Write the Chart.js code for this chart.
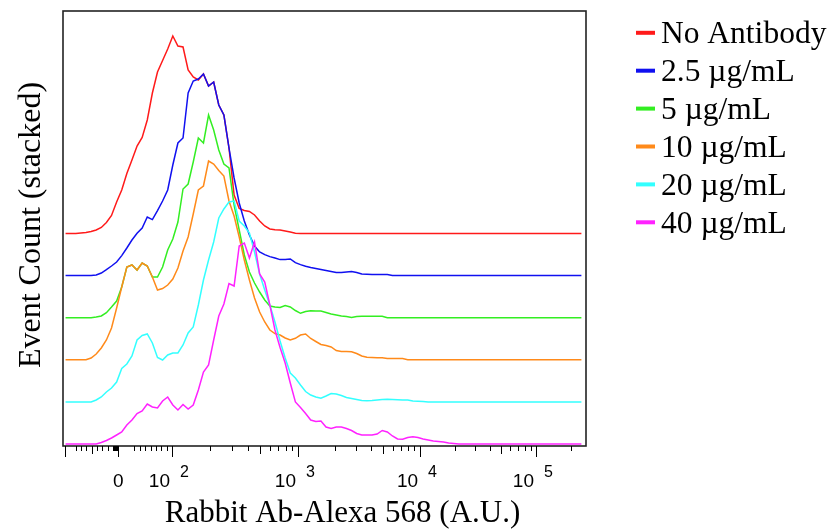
<!DOCTYPE html>
<html>
<head>
<meta charset="utf-8">
<script src="https://cdn.jsdelivr.net/npm/chart.js@4.4.1/dist/chart.umd.min.js"></script>
<style>
  body { margin: 0; background: #fff; }
  #wrap { width: 831px; height: 529px; }
</style>
</head>
<body>
<div id="wrap"><canvas id="histChart"></canvas></div>
<script>
const seriesNames = ['No Antibody', '2.5 \u00b5g/mL', '5 \u00b5g/mL', '10 \u00b5g/mL', '20 \u00b5g/mL', '40 \u00b5g/mL'];
const seriesColors = ['#ff1a1a', '#1010f0', '#33ee22', '#ff8a1a', '#33ffff', '#ff22ff'];

// vertical offset of each histogram in the stack
const stackOffsets = [210.5, 168.4, 126.3, 84.2, 42.1, 0];

// histogram bins, centre of each 10-channel bin on the 0-1024 display scale
const binChannels = Array.from({ length: 102 }, (_, i) => i * 10 + 5);

// event counts per bin
const noAntibody = [
  0, 0, 0, 0.5, 1, 2, 3.5, 6, 11, 18,
  31.5, 43.5, 60, 73.5, 87.5, 96, 113.5, 140.5, 161.5, 173,
  184.5, 197.5, 187.5, 186.5, 163.5, 156.5, 153.5, 159.5, 147.5, 151.5,
  128.5, 118.5, 85.5, 38.5, 25, 23, 22, 18.5, 12.5, 7.5,
  4.5, 3.8, 3.5, 2.5, 1.5, 0.2, 0, 0, 0, 0,
  0, 0, 0, 0, 0, 0, 0, 0, 0, 0,
  0, 0, 0, 0, 0, 0, 0, 0, 0, 0,
  0, 0, 0, 0, 0, 0, 0, 0, 0, 0,
  0, 0, 0, 0, 0, 0, 0, 0, 0, 0,
  0, 0, 0, 0, 0, 0, 0, 0, 0, 0,
  0, 0
];
const ab2_5 = [
  0, 0, 0, 0, 0, 0, 0.6, 2.6, 6, 9.6,
  13.6, 20, 27.6, 35.6, 42.3, 47.6, 58.6, 56, 65, 74.6,
  85.6, 110.6, 132.6, 137.6, 182.6, 194.6, 196.6, 201.6, 189.6, 193.6,
  170.6, 160.6, 127.6, 97.6, 72.6, 54.6, 40.6, 29.6, 23.6, 21,
  19, 17.6, 16, 16, 16.6, 13, 11, 9.3, 8, 7,
  6, 5, 4, 3, 3, 3.6, 4, 3, 1.6, 1.3,
  1, 1, 1, 1, 0, 0, 0, 0, 0, 0,
  0, 0, 0, 0, 0, 0, 0, 0, 0, 0,
  0, 0, 0, 0, 0, 0, 0, 0, 0, 0,
  0, 0, 0, 0, 0, 0, 0, 0, 0, 0,
  0, 0
];
const ab5 = [
  0, 0, 0, 0, 0, 0, 0.7, 1.7, 5, 10.7,
  16.7, 30.7, 50.7, 52.7, 47.7, 54.7, 51.7, 40.7, 40.7, 50.7,
  67.7, 78.7, 95.7, 128.7, 133.7, 155.7, 179.7, 174.7, 202.7, 187.7,
  167.7, 153.7, 149.7, 112.7, 87.7, 62.7, 45.7, 34.7, 25.7, 17.7,
  11.7, 10.7, 10.2, 12.2, 10.7, 7.2, 4.4, 6.2, 7, 6.7,
  6.7, 5.2, 3.7, 2.7, 1.7, 1.2, 0.2, 1.2, 1.4, 1.4,
  1.4, 1.4, 1.4, 0, 0, 0, 0, 0, 0, 0,
  0, 0, 0, 0, 0, 0, 0, 0, 0, 0,
  0, 0, 0, 0, 0, 0, 0, 0, 0, 0,
  0, 0, 0, 0, 0, 0, 0, 0, 0, 0,
  0, 0
];
const ab10 = [
  0, 0, 0, 0, 0, 1.8, 5.8, 11.8, 19.8, 31.8,
  51.8, 72.8, 92.8, 94.8, 89.8, 96.8, 93.8, 82.8, 69.8, 71.3,
  74.8, 80.8, 91.8, 108.8, 122.8, 145.8, 169.8, 173.8, 198.8, 195.8,
  189.3, 183.8, 158.8, 143.8, 122.8, 99.8, 79.8, 61.8, 47.8, 37.8,
  29.8, 26.3, 24.8, 21.8, 19.8, 21.5, 24.8, 25.8, 21.3, 18.3,
  15.3, 14.3, 12.8, 9.3, 8.3, 8.3, 8.1, 6.3, 3.8, 2.6,
  2.3, 2.1, 2.1, 1.3, 1.3, 1.3, 1.3, 0, 0, 0,
  0, 0, 0, 0, 0, 0, 0, 0, 0, 0,
  0, 0, 0, 0, 0, 0, 0, 0, 0, 0,
  0, 0, 0, 0, 0, 0, 0, 0, 0, 0,
  0, 0
];
const ab20 = [
  0, 0, 0, 0, 0, 0, 1.9, 4.9, 9.9, 13.9,
  19.9, 33.4, 37.9, 45.9, 61.9, 66.4, 67.9, 58.9, 44.4, 41.9,
  46.9, 48.9, 48.9, 56.9, 68.9, 74.9, 96.9, 121.9, 141.9, 159.9,
  183.9, 192.9, 199.9, 200.9, 180.9, 175.9, 168.9, 149.9, 127.9, 111.9,
  96.9, 79.9, 60.9, 43.9, 28.9, 23.9, 16.9, 10.4, 6.9, 4.9,
  3.6, 5.9, 8.4, 7.9, 6.4, 4.4, 3.4, 2.4, 1.4, 1.2,
  1.4, 1.9, 2.4, 2.6, 2.4, 2.2, 1.9, 1.9, 0.9, 0.7,
  0.4, 0, 0, 0, 0, 0, 0, 0, 0, 0,
  0, 0, 0, 0, 0, 0, 0, 0, 0, 0,
  0, 0, 0, 0, 0, 0, 0, 0, 0, 0,
  0, 0
];
const ab40 = [
  0, 0, 0, 0, 0, 0, 0, 1.5, 3.5, 6,
  9, 12, 19, 24, 30.5, 33, 40, 37, 36, 43,
  47, 39, 34, 39.5, 35, 39, 54, 72, 79, 104,
  128, 140, 160.5, 158, 198, 201, 186, 202, 170, 162,
  139, 114, 96.5, 81, 61, 42, 36.5, 30.5, 24, 22.5,
  23, 17, 15.5, 17, 17, 15.5, 13.5, 10.5, 9, 9,
  9, 10, 13.5, 12, 8, 5, 4.7, 6.5, 7.3, 6.5,
  5, 4, 3, 2.5, 2, 1, 0.5, 0, 0, 0,
  0, 0, 0, 0, 0, 0, 0, 0, 0, 0,
  0, 0, 0, 0, 0, 0, 0, 0, 0, 0,
  0, 0
];
const seriesCounts = [noAntibody, ab2_5, ab5, ab10, ab20, ab40];

// biexponential axis: intensity -> display channel anchors
const axisValues = [-100, 0, 100, 1000, 10000, 100000];
const axisChannels = [3.9, 108.3, 213.4, 460.1, 699, 926.1];
const labelValues = [0, 100, 1000, 10000, 100000];
const labelExponents = ['', '2', '3', '4', '5'];
const longTicks = [-100, 0, 100, 1000, 10000, 100000];
const midTicks = [-50, 500, 5000, 50000];
const shortTicks = [-80, -70, -60, -40, -30, -20, -10, -8, -6, -4, -2, 30, 40, 50, 60, 70, 80, 90,
  200, 300, 400, 600, 700, 800, 900, 2000, 3000, 4000, 6000, 7000, 8000, 9000,
  20000, 30000, 40000, 60000, 70000, 80000, 90000, 200000];

function toChannel(v) {
  if (v <= axisValues[2]) {
    // linear region around zero
    if (v <= 0) return axisChannels[1] + (v / 100) * (axisChannels[1] - axisChannels[0]);
    return axisChannels[1] + (v / 100) * (axisChannels[2] - axisChannels[1]);
  }
  const d = Math.log10(v) - 2;
  const k = Math.min(Math.floor(d), 2);
  const a = axisChannels[2 + k], b = axisChannels[3 + k];
  return a + (d - k) * (b - a);
}

const flowAxes = {
  id: 'flowAxes',
  afterDraw(chart) {
    const { ctx, chartArea: area, scales: { x } } = chart;
    ctx.save();

    // box around the plot
    ctx.strokeStyle = '#222';
    ctx.lineWidth = 1.6;
    ctx.strokeRect(area.left, area.top, area.right - area.left, area.bottom - area.top);

    // tick marks under the x axis
    ctx.strokeStyle = '#000';
    ctx.lineWidth = 1;
    const drawTicks = (vals, len) => {
      ctx.beginPath();
      vals.forEach(v => {
        const px = Math.round(x.getPixelForValue(toChannel(v))) + 0.5;
        ctx.moveTo(px, area.bottom);
        ctx.lineTo(px, area.bottom + len);
      });
      ctx.stroke();
    };
    drawTicks(longTicks, 11);
    drawTicks(midTicks, 8);
    drawTicks(shortTicks, 5);

    // tick labels, powers of ten with raised exponents
    ctx.fillStyle = '#000';
    ctx.textBaseline = 'alphabetic';
    labelValues.forEach((v, i) => {
      const px = x.getPixelForValue(toChannel(v));
      ctx.font = '19px "Liberation Sans", Arial, sans-serif';
      if (!labelExponents[i]) {
        ctx.textAlign = 'center';
        ctx.fillText('0', px, 487);
        return;
      }
      ctx.textAlign = 'right';
      ctx.fillText('10', px - 2, 487);
      ctx.font = '16px "Liberation Sans", Arial, sans-serif';
      ctx.textAlign = 'left';
      ctx.fillText(labelExponents[i], px + 8, 477);
    });

    // axis titles
    ctx.font = '31px "Liberation Serif", "Times New Roman", serif';
    ctx.textAlign = 'center';
    ctx.fillText('Rabbit Ab-Alexa 568 (A.U.)', 342.5, 522);
    ctx.save();
    ctx.translate(40, 225);
    ctx.rotate(-Math.PI / 2);
    ctx.font = '32px "Liberation Serif", "Times New Roman", serif';
    ctx.fillText('Event Count (stacked)', 0, 0);
    ctx.restore();

    // legend
    ctx.font = '31.5px "Liberation Serif", "Times New Roman", serif';
    ctx.textAlign = 'left';
    seriesNames.forEach((name, i) => {
      const base = 43.3 + i * 37.9;
      ctx.fillStyle = seriesColors[i];
      ctx.fillRect(636, base - 12.5, 19, 4);
      ctx.fillStyle = '#000';
      ctx.fillText(name, 661, base);
    });

    ctx.restore();
  }
};

new Chart(document.getElementById('histChart'), {
  type: 'line',
  data: {
    datasets: seriesNames.map((name, i) => ({
      label: name,
      data: binChannels.map((ch, j) => ({ x: ch, y: seriesCounts[i][j] + stackOffsets[i] })),
      borderColor: seriesColors[i],
      borderWidth: 1.5,
      pointRadius: 0,
      tension: 0,
      fill: false,
      order: seriesNames.length - i
    }))
  },
  options: {
    responsive: true,
    maintainAspectRatio: false,
    animation: false,
    layout: { padding: { left: 63, top: 11, right: 245, bottom: 83 } },
    scales: {
      x: { type: 'linear', min: 0, max: 1024, display: false },
      y: { min: -2, max: 433, display: false }
    },
    plugins: {
      legend: { display: false },
      tooltip: { enabled: false }
    }
  },
  plugins: [flowAxes]
});
</script>
</body>
</html>
